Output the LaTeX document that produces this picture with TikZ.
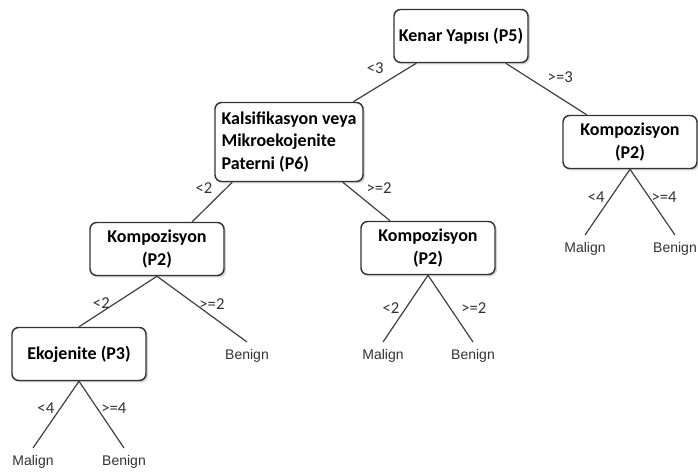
\documentclass[tikz,border=0pt]{standalone}
\usepackage{fontspec}
\setmainfont{Carlito}
\newfontfamily\leaffont{Liberation Sans}
\usetikzlibrary{positioning, shadows, calc}

\tikzset{
  karar/.style={draw=black!80, line width=1.1pt, rounded corners=5pt, fill=white,
    minimum width=100.5pt, minimum height=39.75pt, align=center,
    font=\fontsize{13.5}{17}\selectfont\bfseries,
    drop shadow={shadow xshift=1.4pt, shadow yshift=-1.4pt, fill=black!35}},
  yaprak/.style={font=\leaffont\fontsize{10.5}{12}\selectfont, text=black!80,
    inner xsep=1pt, inner ysep=5pt, anchor=north},
  kosul/.style={font=\fontsize{12.5}{14}\selectfont, text=black!80, inner sep=1pt},
  kol/.style={draw=black!75, line width=0.9pt}
}

\begin{document}
\begin{tikzpicture}[x=0.75pt, y=-0.75pt]
  \useasboundingbox (0,0) rectangle (698,475);

  % karar dugumleri
  \node[karar] (p5) at (461,36) {Kenar Yapısı (P5)};
  \node[karar, align=left, minimum width=111pt, minimum height=59.25pt] (p6) at (289,142)
    {Kalsifikasyon veya\\Mikroekojenite\\Paterni (P6)};
  \node[karar] (k1) at (630,142) {Kompozisyon\\(P2)};
  \node[karar] (k2) at (157,249) {Kompozisyon\\(P2)};
  \node[karar] (k3) at (428,248) {Kompozisyon\\(P2)};
  \node[karar] (p3) at (79,354) {Ekojenite (P3)};

  % yapraklar
  \node[yaprak] (m1) at (585,235) {Malign};
  \node[yaprak] (b1) at (675,235) {Benign};
  \node[yaprak] (m2) at (383,342) {Malign};
  \node[yaprak] (b2) at (473,342) {Benign};
  \node[yaprak] (b3) at (247,342) {Benign};
  \node[yaprak] (m4) at (33,448) {Malign};
  \node[yaprak] (b4) at (124,448) {Benign};

  % kollar
  \draw[kol] ($(p5.south west)!0.17!(p5.south east)$)
    -- node[kosul, pos=0.43, above left=4pt] {<3} ($(p6.north west)!0.93!(p6.north east)$);
  \draw[kol] ($(p5.south west)!0.83!(p5.south east)$)
    -- node[kosul, pos=0.46, above right=3pt] {>=3} ($(k1.north west)!0.18!(k1.north east)$);

  \draw[kol] ($(p6.south west)!0.12!(p6.south east)$)
    -- node[kosul, pos=0.15, left=9pt] {<2} ($(k2.north west)!0.76!(k2.north east)$);
  \draw[kol] ($(p6.south west)!0.86!(p6.south east)$)
    -- node[kosul, pos=0.15, right=11pt] {>=2} ($(k3.north west)!0.22!(k3.north east)$);

  \draw[kol] (k1.south) -- node[kosul, pos=0.42, left=3.5pt] {<4} (m1.north);
  \draw[kol] (k1.south) -- node[kosul, pos=0.42, right=0.5pt] {>=4} (b1.north);

  \draw[kol] (k3.south) -- node[kosul, pos=0.49, left=3.5pt] {<2} (m2.north);
  \draw[kol] (k3.south) -- node[kosul, pos=0.49, right=7pt] {>=2} (b2.north);

  \draw[kol] (k2.south) -- node[kosul, pos=0.53, left=3pt] {<2} (p3.north);
  \draw[kol] (k2.south) -- node[kosul, pos=0.42, right=2pt] {>=2} (b3.north);

  \draw[kol] (p3.south) -- node[kosul, pos=0.41, left=3pt] {<4} (m4.north);
  \draw[kol] (p3.south) -- node[kosul, pos=0.41, right=1.5pt] {>=4} (b4.north);
\end{tikzpicture}
\end{document}
